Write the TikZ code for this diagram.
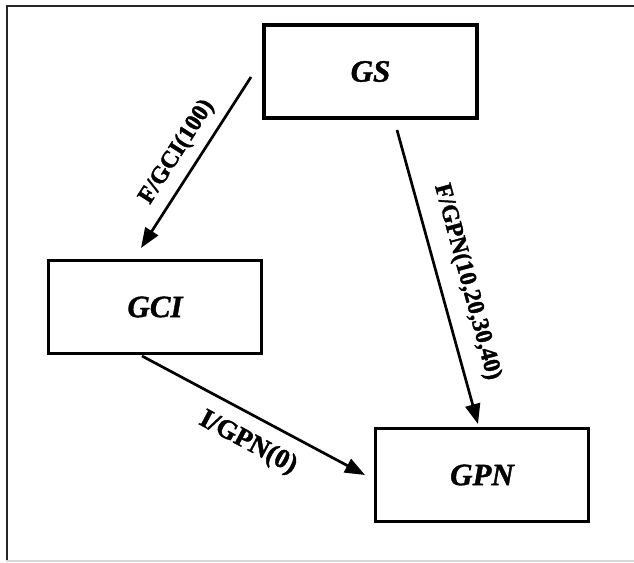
\documentclass[tikz,border=0pt]{standalone}
\usepackage{fontspec}
\setmainfont{Liberation Serif}
\newfontface\lblface{Liberation Serif Bold}[FakeBold=1.6]
\newfontface\boxface{Liberation Serif Bold Italic}[FakeBold=1.2]
\usetikzlibrary{arrows.meta}
\tikzset{
  box/.style={draw=black, line width=3.3pt, minimum width=213pt, minimum height=93pt,
    inner sep=0pt, font=\boxface\fontsize{31}{34}\selectfont},
  conn/.style={line width=2.7pt, -{Triangle[length=20pt,width=15pt]}},
  lbl/.style={font=\lblface\fontsize{24}{26}\selectfont, inner sep=0pt},
  biglbl/.style={lbl, font=\lblface\fontsize{27}{29}\selectfont},
  frameline/.style={line width=2pt, draw=black!85}
}
\begin{document}
\begin{tikzpicture}[x=1pt,y=-1pt]
\useasboundingbox (0,0) rectangle (634,562);
\draw[frameline] (6.5,562) -- (6.5,6) -- (634,6);
\draw[line width=1.5pt, draw=black!15] (6,561) -- (634,561);

\node[box] (GS)  at (370.5,71.5) {GS};
\node[box] (GCI) at (155,307)    {GCI};
\node[box] (GPN) at (482,475)    {GPN};

\coordinate (s1) at (251,77);
\coordinate (e1) at (141,248);
\coordinate (s2) at (397,130);
\coordinate (e2) at (478,424);
\coordinate (s3) at (142,356);
\coordinate (e3) at (365,475);

\draw[conn] (s1) -- (e1);
\draw[conn] (s2) -- (e2);
\draw[conn] (s3) -- (e3);

\node[lbl, rotate=57.3]  (l1) at (177,152) {F/GCI(100)};
\node[lbl, rotate=-74.8] (l2) at (467,282) {F/GPN(10,20,30,40)};
\node[biglbl, rotate=-28] (l3) at (248,443) {I/GPN(0)};
\end{tikzpicture}
\end{document}
